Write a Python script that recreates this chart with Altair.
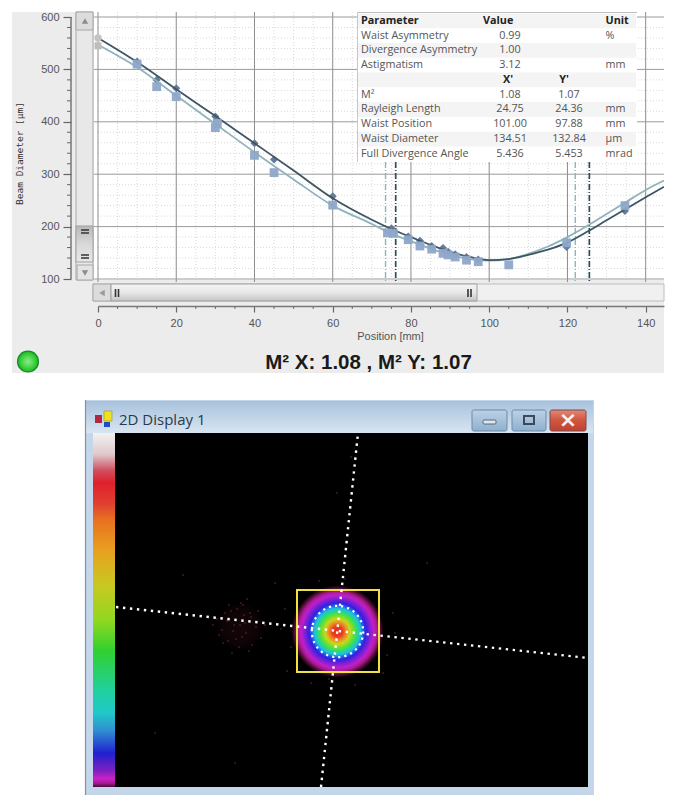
import altair as alt
import pandas as pd

# ---- data ----
dark_x = [0,10,20,30,40,50,60,70,76,80,85,90,95,100,105,110,115,120,125,130,135,140,144.7]
dark_y = [560,514,462,411,359,307,254,213,192,180,165,152,142,136,138,146,156,170,190,212,234,256,276]
light_x = [0,10,20,30,40,50,60,70,74,80,85,90,95,100,105,110,115,120,125,130,135,140,144.7]
light_y = [547,504,450,396,342,290,240,205,190,172,158,146,138,135,138,148,162,180,201,224,247,270,288]
sq_x = [0,10,15,20,30,30.5,40,45,60,74,75.5,79.3,82.3,85.3,88.2,89.5,91.3,94.2,97.2,105,119.8,134.7]
sq_y = [545,510,467,448,389,397,336,303,241,188,187,175,163,157,149,146,142,136,133,127,169,240]
di_x = [0,10,15,20,30,40,45,60,75,79.3,82.3,85.3,88.2,89.5,91.3,94.2,97.2,119.8,134.7]
di_y = [560,515,480,464,410,359,328,258,197,181,173,163,159,152,147,142,137,161,230]
dash_dark = [76.1,125.6]
dash_light = [73.5,122.0]
x_major = [0,20,40,60,80,100,120,140]
x_minor = [5,10,15,25,30,35,45,50,55,65,70,75,85,90,95,105,110,115,125,130,135]
y_major = [100,200,300,400,500,600]
y_minor = [120,140,160,180,220,240,260,280,320,340,360,380,420,440,460,480,520,540,560,580]

table_rows = [
    ("Parameter","Value","","Unit"),
    ("Waist Asymmetry","0.99","","%"),
    ("Divergence Asymmetry","1.00","",""),
    ("Astigmatism","3.12","","mm"),
    ("","X'","Y'",""),
    ("M\u00b2","1.08","1.07",""),
    ("Rayleigh Length","24.75","24.36","mm"),
    ("Waist Position","101.00","97.88","mm"),
    ("Waist Diameter","134.51","132.84","\u00b5m"),
    ("Full Divergence Angle","5.436","5.453","mrad"),
]

line1_x = [1, 473]; line1_y = [174, 225]
line2_x = [243, 206]; line2_y = [0, 354]
speck_x = [102,107,116,121,126,131,136,146,108,114,119,124,129,134,141,112,117,122,127,132,137,118,125,130,104,113,128,135,150,98,143,110,
           170,176,166,172,160,278,272,268,280,230,214,196,240,204,68,312,40,120,222,236]
speck_y = [186,197,178,206,170,200,184,205,210,172,192,214,182,218,194,188,220,176,204,166,212,198,192,190,202,208,172,180,192,192,178,180,
           176,214,196,238,150,180,222,240,200,146,246,250,252,148,142,130,300,330,60,24]
colorbar_stops = [(0,"#f2f2f2"),(.06,"#e0c8cc"),(.105,"#d05060"),(.14,"#e0202c"),(.2,"#e04030"),(.245,"#e87020"),
                  (.33,"#e8a020"),(.43,"#c8c820"),(.53,"#90d820"),(.615,"#30d030"),(.73,"#20d0a0"),(.79,"#20c8c8"),
                  (.84,"#3090d0"),(.905,"#2020d0"),(.955,"#8020c0"),(.977,"#d020c8"),(.99,"#a01890"),(1,"#401030")]
beam_stops = [(0,"#e02818"),(.115,"#e84020"),(.19,"#f08820"),(.27,"#c8d820"),(.365,"#60e030"),(.44,"#20d890"),
              (.5,"#20c0e0"),(.56,"#2060e8"),(.615,"#3020e0"),(.69,"#7020d8"),(.79,"#c020c8"),(.865,"#a81890"),(.92,"#601040"),(1,"#000000")]

one = pd.DataFrame({"a":[0]})

def stops(s):
    return [{"offset":o,"color":c} for o,c in s]
def vgrad(s):
    return {"gradient":"linear","x1":0,"y1":0,"x2":0,"y2":1,"stops":stops(s)}
def rgrad(s):
    return {"gradient":"radial","x1":.5,"y1":.5,"r1":0,"x2":.5,"y2":.5,"r2":.5,"stops":stops(s)}

def make_helpers(ox, oy):
    def rect(x1,y1,x2,y2,color,**kw):
        return alt.Chart(one).mark_rect(color=color,**kw).encode(
            x=alt.value(x1-ox),x2=alt.value(x2-ox),y=alt.value(y1-oy),y2=alt.value(y2-oy))
    def box(x1,y1,x2,y2,stroke,width=1,**kw):
        return alt.Chart(one).mark_rect(fillOpacity=0,stroke=stroke,strokeWidth=width,**kw).encode(
            x=alt.value(x1-ox),x2=alt.value(x2-ox),y=alt.value(y1-oy),y2=alt.value(y2-oy))
    def txt(s,x,y,size=11,color="#444444",font="Open Sans",weight="normal",align="left"):
        return alt.Chart(one).mark_text(text=s,fontSize=size,color=color,font=font,fontWeight=weight,
            align=align,baseline="middle").encode(x=alt.value(x-ox),y=alt.value(y-oy))
    def rule(x1,y1,x2,y2,color,width=1,**kw):
        return alt.Chart(one).mark_rule(color=color,strokeWidth=width,**kw).encode(
            x=alt.value(x1-ox),x2=alt.value(x2-ox),y=alt.value(y1-oy),y2=alt.value(y2-oy))
    def tri(x,y,size,shape,color):
        return alt.Chart(one).mark_point(shape=shape,size=size,filled=True,color=color,opacity=1).encode(
            x=alt.value(x-ox),y=alt.value(y-oy))
    def disc(x,y,r,color,**kw):
        return alt.Chart(one).mark_circle(color=color,size=3.1416*r*r,opacity=1,**kw).encode(
            x=alt.value(x-ox),y=alt.value(y-oy))
    return rect,box,txt,rule,tri,disc

# ---------- top panel ----------
OX,OY = 98,12
W,H = 566,267
rect,box,txt,rule,tri,disc = make_helpers(OX,OY)
xs = alt.Scale(domain=[0,W/3.912],nice=False,zero=False)
ys = alt.Scale(domain=[100,100+H/0.524],nice=False,zero=False)
xaxis = alt.Axis(values=x_major,title="Position [mm]",offset=27,zindex=1,grid=False,labelFont="Liberation Sans",labelFontSize=11,
    labelColor="#555555",tickColor="#666666",tickSize=6,tickWidth=1.2,domainColor="#777777",domainWidth=1.5,labelPadding=5,
    titleFont="Liberation Sans",titleFontSize=11,titleColor="#555555",titleFontWeight="normal",titleX=292,titleY=24,labelFlush=False)
yaxis = alt.Axis(values=y_major,title="Beam Diameter [\u00b5m]",offset=27,zindex=1,grid=False,labelFont="Liberation Sans",labelFontSize=11,
    labelColor="#555555",tickColor="#666666",tickSize=8,tickWidth=1.2,domain=False,labelPadding=4,
    titleFont="DejaVu Sans Mono",titleFontSize=9.5,titleColor="#333333",titleFontWeight="normal",titleX=-47,titleY=141,titleAngle=270)
XN = alt.X("x:Q",scale=xs,axis=xaxis)
YN = alt.Y("y:Q",scale=ys,axis=yaxis)

top = []
top.append(rect(8,8,677,390,"#ffffff"))
top.append(rect(12,12,664,373,"#ececec"))
top.append(rect(94,12,664,280,"#ffffff"))

# minor grid
top.append(alt.Chart(pd.DataFrame({"x":x_minor})).mark_rule(color="#d9d9d9",strokeWidth=1,strokeDash=[1,2]).encode(
    x=XN,y=alt.value(0),y2=alt.value(H)))
top.append(alt.Chart(pd.DataFrame({"y":y_minor})).mark_rule(color="#d9d9d9",strokeWidth=1,strokeDash=[1,2]).encode(
    y=YN,x=alt.value(0),x2=alt.value(W)))
# major grid
top.append(alt.Chart(pd.DataFrame({"x":x_major})).mark_rule(color="#8c8c8c",strokeWidth=1).encode(
    x=XN,y=alt.value(0),y2=alt.value(H+3)))
top.append(alt.Chart(pd.DataFrame({"y":y_major})).mark_rule(color="#9a9a9a",strokeWidth=1).encode(
    y=YN,x=alt.value(-4),x2=alt.value(W)))
# Rayleigh markers
top.append(alt.Chart(pd.DataFrame({"x":dash_light})).mark_rule(color="#8cb4c0",strokeWidth=1.4,strokeDash=[6,2,1,2]).encode(
    x=XN,y=alt.value(150),y2=alt.value(H+3)))
top.append(alt.Chart(pd.DataFrame({"x":dash_dark})).mark_rule(color="#2f4a58",strokeWidth=1.7,strokeDash=[6,2,1,2]).encode(
    x=XN,y=alt.value(150),y2=alt.value(H+3)))
# markers
top.append(alt.Chart(pd.DataFrame({"x":di_x[1:],"y":di_y[1:]})).mark_point(shape="diamond",filled=True,size=65,color="#667a99",opacity=1).encode(x=XN,y=YN))
# fitted curves
top.append(alt.Chart(pd.DataFrame({"x":light_x,"y":light_y})).mark_line(color="#8fb3bd",strokeWidth=1.8,interpolate="monotone",clip=True).encode(x=XN,y=YN))
top.append(alt.Chart(pd.DataFrame({"x":dark_x,"y":dark_y})).mark_line(color="#3d5563",strokeWidth=1.8,interpolate="monotone",clip=True).encode(x=XN,y=YN))
top.append(alt.Chart(pd.DataFrame({"x":sq_x[1:],"y":sq_y[1:]})).mark_point(shape="square",filled=True,size=78,color="#8ea6c9",opacity=.95).encode(x=XN,y=YN))
top.append(alt.Chart(pd.DataFrame({"x":[0],"y":[560]})).mark_point(shape="circle",filled=True,size=55,color="#c4c4c4",opacity=1).encode(x=XN,y=YN))
top.append(alt.Chart(pd.DataFrame({"x":[0],"y":[545]})).mark_point(shape="square",filled=True,size=50,color="#bdbdbd",opacity=1).encode(x=XN,y=YN))

# minor ticks on the axes
top.append(alt.Chart(pd.DataFrame({"y":y_minor})).mark_rule(color="#666666",strokeWidth=1).encode(
    y=YN,x=alt.value(-27-4),x2=alt.value(-27)))
top.append(alt.Chart(pd.DataFrame({"x":x_minor})).mark_rule(color="#666666",strokeWidth=1).encode(
    x=XN,y=alt.value(H+27),y2=alt.value(H+30)))
top.append(rule(71,17,71,279,"#777777",1.5))

# scroll bars
top.append(rect(76,12,93,280,"#e8e8e8",stroke="#a8a8a8",strokeWidth=1))
top.append(rect(76,12,93,30,"#dcdcdc",stroke="#a8a8a8",strokeWidth=1))
top.append(tri(85,21,40,"triangle-up","#8c8c8c"))
top.append(rect(76,226,93,262,vgrad([(0,"#b8b8b8"),(.5,"#d8d8d8"),(1,"#e8e8e8")]),stroke="#a0a0a0",strokeWidth=1))
for yy in (230,233,255,258):
    top.append(rule(81,yy,89,yy,"#333333",1.5))
top.append(rect(77,265,93,280,"#e4e4e4",stroke="#a8a8a8",strokeWidth=1))
top.append(tri(85,273,40,"triangle-down","#8c8c8c"))
top.append(rect(93,284,664,301,"#f0f0f0",stroke="#bdbdbd",strokeWidth=1))
top.append(rect(93,284,111,301,"#dcdcdc",stroke="#a8a8a8",strokeWidth=1))
top.append(tri(102,293,40,"triangle-left","#9a9a9a"))
top.append(rect(111,284,477,301,vgrad([(0,"#f4f4f4"),(.5,"#e8e8e8"),(1,"#c4c4c4")]),stroke="#a0a0a0",strokeWidth=1))
for xx in (115.5,118.5,468,471):
    top.append(rule(xx,289,xx,297,"#333333",1.6))

# table
row_h = 14.78
FS = 10.8
top.append(rect(357,12,637,162,"#ffffff"))
top.append(rule(357,12.5,637,12.5,"#c0c0c0",1))
top.append(rule(357.5,12,357.5,162,"#c8c8c8",1))
for i,(a,b,c,d) in enumerate(table_rows):
    cy = 20.8 + i*row_h
    if i%2==0:
        top.append(rect(358,cy-7.4,636,cy+7.4,"#f4f4f4"))
    hdr = i==0
    bold = "bold" if hdr else "normal"
    col = "#222222" if hdr else "#555555"
    if a: top.append(txt(a,361,cy,FS,col,weight=bold))
    if hdr:
        top.append(txt(b,483,cy,FS,col,weight="bold"))
        top.append(txt(d,605.5,cy,FS,col,weight="bold"))
    elif i==4:
        top.append(txt(b,508,cy,FS,"#222222",weight="bold",align="center"))
        top.append(txt(c,564,cy,FS,"#222222",weight="bold",align="center"))
    else:
        if b: top.append(txt(b,510,cy,FS,col,align="center"))
        if c: top.append(txt(c,569,cy,FS,col,align="center"))
        if d: top.append(txt(d,605.5,cy,FS,col))

# status
top.append(disc(28,361.5,12.5,"#178a2c"))
top.append(disc(28,361.5,11,rgrad([(0,"#8fe88f"),(.45,"#5adc5a"),(1,"#20c020")])))
top.append(txt("M\u00b2 X: 1.08 , M\u00b2 Y: 1.07",368.5,363,20.5,"#1a1a1a","Liberation Sans","bold","center"))

top_chart = alt.layer(*top).properties(width=W,height=H)

# ---------- bottom panel ----------
# same left origin as the top view; image coordinates start at the black area
OX2,OY2 = 98,433
W2,H2 = 490,354
rect,box,txt,rule,tri,disc = make_helpers(OX2,OY2)
xs2 = alt.Scale(domain=[-17,473],nice=False,zero=False)
ys2 = alt.Scale(domain=[H2,0],nice=False,zero=False)
X2 = alt.X("x:Q",scale=xs2,axis=None)
Y2 = alt.Y("y:Q",scale=ys2,axis=None)

bot = []
bot.append(rect(8,390,677,800,"#ffffff"))
bot.append(rect(85,400,594,795,"#c3d6ea"))
bot.append(rect(86,401,593,433,vgrad([(0,"#a8c2dc"),(1,"#d8e5f2")])))
bot.append(rule(85.5,400,85.5,795,"#8a9098",1.2))
bot.append(rect(115,433,588,787,"#000000"))
bot.append(rect(93,433,115,787,vgrad(colorbar_stops)))
# icon
bot.append(rect(95,415,102,423,"#b02840"))
bot.append(rect(104,411,112,421,"#f0e020",stroke="#a09020",strokeWidth=.6))
bot.append(rect(104,422,110,427,"#2050c0"))
bot.append(txt("2D Display 1",119,420,15,"#2a3a4a","Open Sans"))
# window buttons
for x1,x2,c in ((472,507,[(0,"#bcd2e6"),(1,"#8fb0cf")]),(512,546,[(0,"#bcd2e6"),(1,"#8fb0cf")])):
    bot.append(rect(x1,410,x2,431,vgrad(c),stroke="#6e8aa6",strokeWidth=1,cornerRadius=2))
bot.append(rect(550,410,586,431,vgrad([(0,"#e08a78"),(.5,"#d0553f"),(1,"#c04030")]),stroke="#7a4a4a",strokeWidth=1,cornerRadius=2))
bot.append(rect(483,420,496,424,"#dfe6ee",stroke="#556b80",strokeWidth=1,cornerRadius=1))
bot.append(box(524,416,534,424,"#3a4a5c",2))
bot.append(alt.Chart(one).mark_text(text="\u00d7",fontSize=22,fontWeight="bold",color="#f4f0ee",font="DejaVu Sans",baseline="middle",align="center").encode(
    x=alt.value(568-OX2),y=alt.value(419.5-OY2)))

# beam
bot.append(alt.Chart(pd.DataFrame({"x":[125],"y":[194]})).mark_circle(size=3.1416*28*28,opacity=.3,
    color=rgrad([(0,"#4a1420"),(.7,"#2c0c14"),(1,"#000000")])).encode(x=X2,y=Y2))
bot.append(alt.Chart(pd.DataFrame({"x":speck_x,"y":speck_y})).mark_square(size=3,color="#6a2a38",opacity=.7).encode(x=X2,y=Y2))
bot.append(alt.Chart(pd.DataFrame({"x":[222.5],"y":[198.5]})).mark_circle(size=3.1416*52*52,opacity=1,color=rgrad(beam_stops)).encode(x=X2,y=Y2))
# yellow ROI
bot.append(alt.Chart(pd.DataFrame({"x":[182],"x2":[264],"y":[157],"y2":[239]})).mark_rect(fillOpacity=0,stroke="#f0e040",strokeWidth=2).encode(
    x=X2,x2="x2:Q",y=Y2,y2="y2:Q"))
# dotted cross and ellipse
bot.append(alt.Chart(pd.DataFrame({"x":line1_x,"y":line1_y})).mark_line(color="#ffffff",strokeWidth=2.4,strokeDash=[2.4,4.6]).encode(x=X2,y=Y2))
bot.append(alt.Chart(pd.DataFrame({"x":line2_x,"y":line2_y})).mark_line(color="#ffffff",strokeWidth=2.4,strokeDash=[2.4,4.6]).encode(x=X2,y=Y2))
bot.append(alt.Chart(pd.DataFrame({"x":[222.5],"y":[198.5]})).mark_point(shape="circle",filled=False,size=3.1416*29*29,color="#ffffff",opacity=1,
    strokeWidth=2.2,strokeDash=[2.2,4]).encode(x=X2,y=Y2))

bot_chart = alt.layer(*bot).properties(width=W2,height=H2)

chart = alt.vconcat(top_chart,bot_chart,spacing=0).resolve_scale(x="independent",y="independent").configure_view(stroke=None).properties(padding=0,background="#ffffff")
chart.save("out.html", embed_options={"renderer": "svg", "actions": False})
